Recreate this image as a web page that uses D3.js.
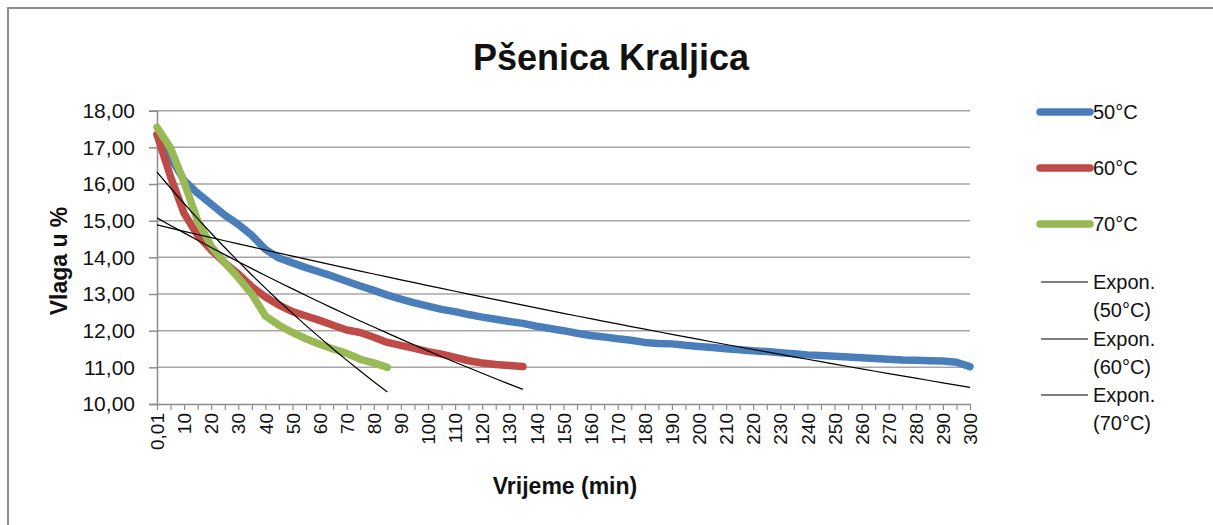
<!DOCTYPE html>
<html>
<head>
<meta charset="utf-8">
<script src="https://cdn.jsdelivr.net/npm/d3@7"></script>
<style>
  body { margin: 0; background: #fff; }
  svg { display: block; }
  text { font-family: "Liberation Sans", Arial, sans-serif; fill: #111; }
</style>
</head>
<body>
<div id="chart"></div>
<script>
// time categories (min)
var minutes = [0.01, 5, 10, 15, 20, 25, 30, 35, 40, 45, 50, 55, 60, 65, 70, 75, 80, 85, 90, 95,
    100, 105, 110, 115, 120, 125, 130, 135, 140, 145, 150, 155, 160, 165, 170, 175, 180, 185, 190, 195,
    200, 205, 210, 215, 220, 225, 230, 235, 240, 245, 250, 255, 260, 265, 270, 275, 280, 285, 290, 295, 300];

// moisture (%)
var vlaga50 = [17.35, 16.72, 16.10, 15.75, 15.45, 15.15, 14.90, 14.60, 14.22, 13.98,
    13.85, 13.72, 13.60, 13.48, 13.35, 13.22, 13.10, 12.97, 12.86, 12.76,
    12.67, 12.58, 12.52, 12.44, 12.37, 12.31, 12.25, 12.20, 12.12, 12.06,
    12.00, 11.93, 11.87, 11.83, 11.78, 11.74, 11.68, 11.65, 11.64, 11.60,
    11.57, 11.54, 11.51, 11.48, 11.45, 11.43, 11.40, 11.37, 11.34, 11.32,
    11.30, 11.28, 11.26, 11.24, 11.22, 11.20, 11.19, 11.18, 11.17, 11.14, 11.02];
var vlaga60 = [17.35, 16.20, 15.20, 14.60, 14.20, 13.85, 13.55, 13.20, 12.92, 12.70,
    12.52, 12.40, 12.28, 12.15, 12.02, 11.95, 11.82, 11.68, 11.60, 11.52,
    11.43, 11.36, 11.27, 11.18, 11.12, 11.08, 11.05, 11.02];
var vlaga70 = [17.55, 16.98, 16.05, 15.00, 14.30, 13.85, 13.45, 13.00, 12.40, 12.15,
    11.95, 11.78, 11.63, 11.50, 11.38, 11.22, 11.12, 11.00];

var seriesNames = ["50°C", "60°C", "70°C"];
var seriesColors = ["#4a7ebb", "#be4b48", "#98b954"];
var yTicks = [10, 11, 12, 13, 14, 15, 16, 17, 18];

drawChart();

function drawChart() {
    var W = 1213, H = 525;
    var left = 157, right = 970, top = 110.7, bottom = 404;

    var svg = d3.select("#chart").append("svg")
        .attr("width", W)
        .attr("height", H);

    // chart frame (right / bottom edges fall outside the picture)
    svg.append("rect")
        .attr("x", 8).attr("y", 8)
        .attr("width", W + 20).attr("height", H + 20)
        .attr("fill", "#fff")
        .attr("stroke", "#8c8c8c")
        .attr("stroke-width", 2);

    var x = d3.scalePoint()
        .domain(d3.range(minutes.length))
        .range([left, right]);
    var y = d3.scaleLinear()
        .domain([10, 18])
        .range([bottom, top]);

    // gridlines
    svg.append("g")
        .selectAll("line")
        .data(yTicks.slice(1))
        .enter()
        .append("line")
        .attr("x1", left).attr("x2", right)
        .attr("y1", function (d) { return y(d); })
        .attr("y2", function (d) { return y(d); })
        .attr("stroke", "#a6a6a6")
        .attr("stroke-width", 1.5);

    // y axis
    var fmt = function (d) { return d3.format(".2f")(d).replace(".", ","); };
    var yAxis = svg.append("g")
        .attr("transform", "translate(" + left + ",0)")
        .call(d3.axisLeft(y).tickValues(yTicks).tickFormat(fmt).tickSize(8).tickPadding(14));
    yAxis.select(".domain").attr("stroke", "#8c8c8c").attr("stroke-width", 1.5);
    yAxis.selectAll(".tick line").attr("stroke", "#8c8c8c").attr("stroke-width", 1.5);
    yAxis.selectAll(".tick text")
        .style("font-family", "Liberation Sans, Arial, sans-serif")
        .style("font-size", "21px")
        .attr("fill", "#111");

    // x axis
    var xAxis = svg.append("g")
        .attr("transform", "translate(0," + bottom + ")")
        .call(d3.axisBottom(x).tickSize(6).tickSizeOuter(0)
            .tickFormat(function (i) { return i % 2 === 0 ? String(minutes[i]).replace(".", ",") : ""; }));
    xAxis.select(".domain").attr("stroke", "#8c8c8c").attr("stroke-width", 1.5);
    xAxis.selectAll(".tick line").attr("stroke", "#8c8c8c").attr("stroke-width", 1.2);
    xAxis.selectAll(".tick text")
        .style("font-family", "Liberation Sans, Arial, sans-serif")
        .style("font-size", "19px")
        .attr("fill", "#111")
        .attr("text-anchor", "end")
        .attr("transform", "rotate(-90)")
        .attr("x", -9)
        .attr("y", 0)
        .attr("dy", "0.35em");

    // series lines
    var allSeries = [vlaga50, vlaga60, vlaga70];
    var line = d3.line()
        .x(function (d, i) { return x(i); })
        .y(function (d) { return y(d); });
    allSeries.forEach(function (vals, k) {
        svg.append("path")
            .datum(vals)
            .attr("d", line)
            .attr("fill", "none")
            .attr("stroke", seriesColors[k])
            .attr("stroke-width", 7.5)
            .attr("stroke-linejoin", "round")
            .attr("stroke-linecap", "round");
    });

    // exponential trendlines, fitted like Excel does (x = 1..n, least squares on ln y)
    allSeries.forEach(function (vals) {
        var n = vals.length;
        var xs = d3.range(1, n + 1);
        var ls = vals.map(Math.log);
        var mx = d3.mean(xs), ml = d3.mean(ls);
        var sxy = d3.sum(xs, function (v, i) { return (v - mx) * (ls[i] - ml); });
        var sxx = d3.sum(xs, function (v) { return (v - mx) * (v - mx); });
        var b = sxy / sxx;
        var a = Math.exp(ml - b * mx);
        var fit = xs.map(function (v) { return a * Math.exp(b * v); });
        svg.append("path")
            .datum(fit)
            .attr("d", line)
            .attr("fill", "none")
            .attr("stroke", "#000")
            .attr("stroke-width", 1.2);
    });

    // title
    svg.append("text")
        .attr("x", 611).attr("y", 70)
        .attr("text-anchor", "middle")
        .style("font-size", "36px")
        .style("font-weight", "bold")
        .text("Pšenica Kraljica");

    // axis titles
    svg.append("text")
        .attr("transform", "translate(67,261) rotate(-90)")
        .attr("text-anchor", "middle")
        .style("font-size", "23px")
        .style("font-weight", "bold")
        .text("Vlaga u %");
    svg.append("text")
        .attr("x", 565).attr("y", 494)
        .attr("text-anchor", "middle")
        .style("font-size", "23px")
        .style("font-weight", "bold")
        .text("Vrijeme (min)");

    // legend
    var legY = [112, 168, 224];
    seriesNames.forEach(function (name, k) {
        svg.append("line")
            .attr("x1", 1040).attr("x2", 1090)
            .attr("y1", legY[k]).attr("y2", legY[k])
            .attr("stroke", seriesColors[k])
            .attr("stroke-width", 7.5)
            .attr("stroke-linecap", "round");
        svg.append("text")
            .attr("x", 1093).attr("y", legY[k] + 7)
            .style("font-size", "20px")
            .text(name);
    });
    var trendY = [282, 339, 395];
    seriesNames.forEach(function (name, k) {
        svg.append("line")
            .attr("x1", 1041).attr("x2", 1088)
            .attr("y1", trendY[k]).attr("y2", trendY[k])
            .attr("stroke", "#000")
            .attr("stroke-width", 1.2);
        var t = svg.append("text")
            .attr("x", 1093).attr("y", trendY[k] + 7)
            .style("font-size", "20px");
        t.append("tspan").attr("x", 1093).text("Expon.");
        t.append("tspan").attr("x", 1093).attr("dy", 28).text("(" + name + ")");
    });
}
</script>
</body>
</html>
